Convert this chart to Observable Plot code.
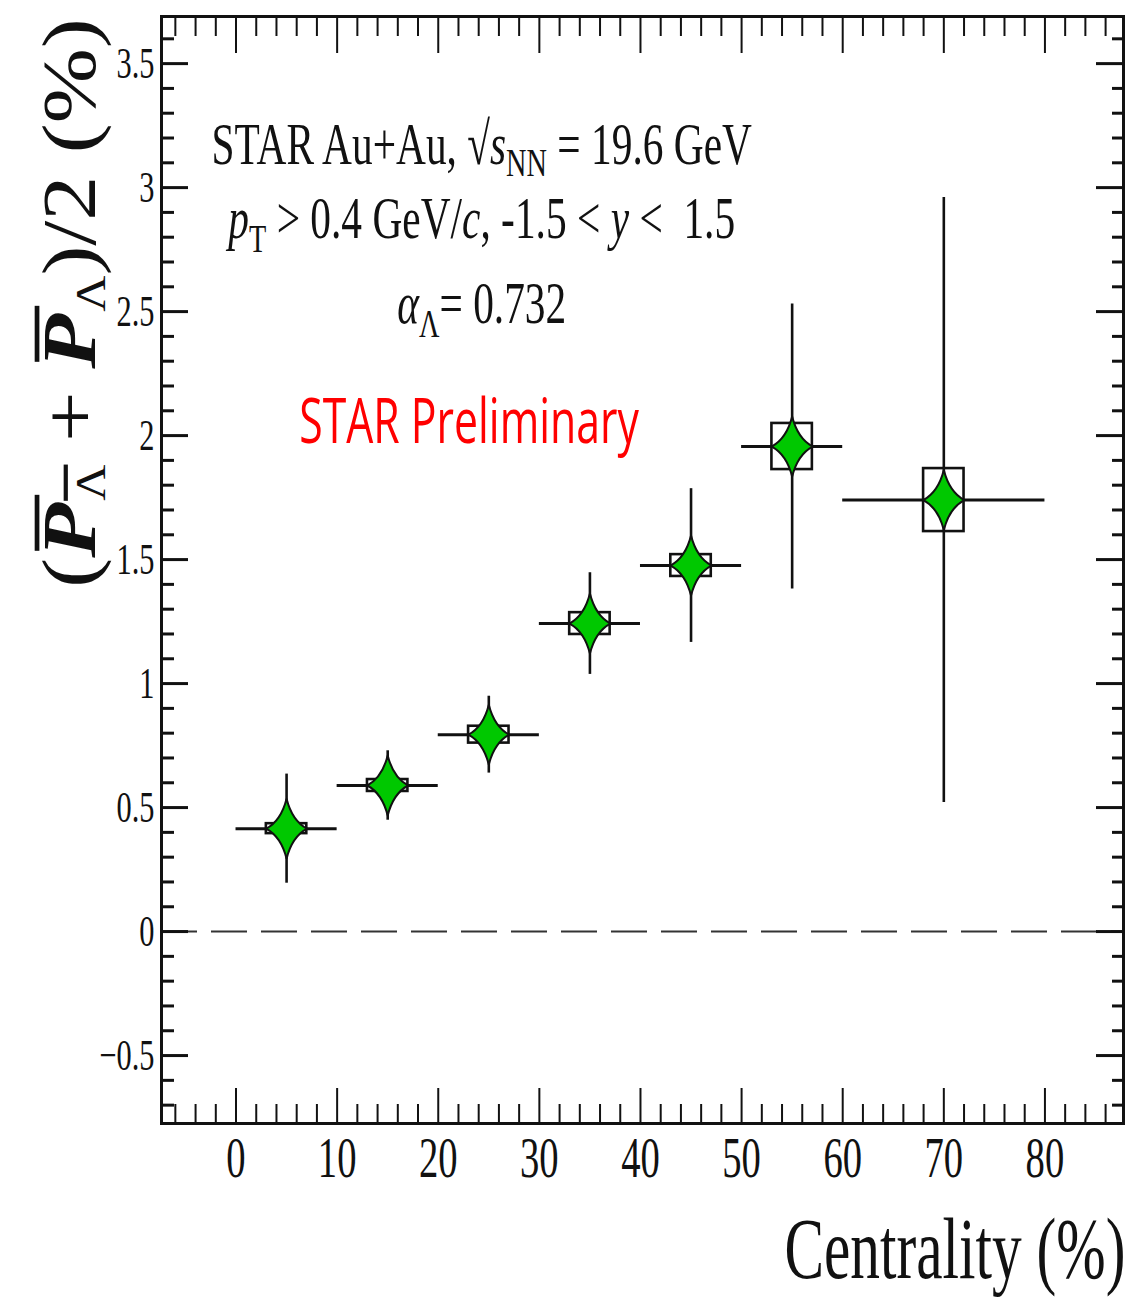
<!DOCTYPE html>
<html>
<head>
<meta charset="utf-8">
<script src="https://cdn.jsdelivr.net/npm/d3@7"></script>
<script src="https://cdn.jsdelivr.net/npm/@observablehq/plot@0.6"></script>
<style>
  html, body { margin: 0; padding: 0; background: #fff; overflow: hidden; }
  #chart { width: 1128px; height: 1297px; overflow: hidden; }
</style>
</head>
<body>
<div id="chart"></div>
<script>
// ---------------- data ----------------
const centrality   = [5, 15, 25, 35, 45, 55, 70];
const binLow       = [0, 10, 20, 30, 40, 50, 60];
const binHigh      = [10, 20, 30, 40, 50, 60, 80];
const polarization = [0.415, 0.589, 0.794, 1.242, 1.476, 1.956, 1.740];
const statErr      = [0.22, 0.14, 0.155, 0.205, 0.31, 0.575, 1.22];
const sysErr       = [0.020, 0.024, 0.034, 0.044, 0.044, 0.093, 0.127];

// tick values / labels
const xMajorTicks = [0, 10, 20, 30, 40, 50, 60, 70, 80];
const yMajorTicks = [-0.5, 0, 0.5, 1, 1.5, 2, 2.5, 3, 3.5];
const xMinorTicks = d3.range(-6, 88, 2).filter(v => v % 10 !== 0);
const yMinorTicks = d3.range(-7, 37).filter(v => v % 5 !== 0).map(v => v / 10);

// texts
const annotLine1 = "STAR Au+Au, √sNN = 19.6 GeV";
const annotLine2 = "pT > 0.4 GeV/c, -1.5 < y < 1.5";
const annotLine3 = "αΛ= 0.732";
const prelimText = "STAR Preliminary";
const xLabelText = "Centrality (%)";
const yLabelText = "(PΛ + PΛ)/2 (%)";

// ---------------- styling constants ----------------
const K = 0.69;          // horizontal condensing of the glyphs, as in the reference
const KY = 0.84;         // condensing of the rotated y title across its lines
const boxHalfWidth = 2;  // half width of the systematic-error boxes (x units)

const rows = centrality.map((x, i) => ({
  x, lo: binLow[i], hi: binHigh[i], y: polarization[i], stat: statErr[i], sys: sysErr[i]
}));

// four-pointed star marker (narrower horizontally, as drawn in the reference)
const star4 = {
  draw(ctx, size) {
    const r = Math.sqrt(size / Math.PI);
    const w = r * 0.68;
    const c = 0.27;
    ctx.moveTo(0, -r);
    ctx.quadraticCurveTo(c * w, -c * r, w, 0);
    ctx.quadraticCurveTo(c * w, c * r, 0, r);
    ctx.quadraticCurveTo(-c * w, c * r, -w, 0);
    ctx.quadraticCurveTo(-c * w, -c * r, 0, -r);
    ctx.closePath();
  }
};

const ink = "#111";
const noText = () => "";

const chart = Plot.plot({
  width: 1128,
  height: 1297,
  marginLeft: 161,
  marginRight: 5,
  marginTop: 16,
  marginBottom: 174,
  style: {fontFamily: "'Liberation Serif', 'Times New Roman', serif", background: "white", color: ink, overflow: "visible"},
  x: {domain: [-7.37, 87.77]},
  y: {domain: [-0.774, 3.69]},
  marks: [
    Plot.ruleY([0], {stroke: "#333", strokeWidth: 2, strokeDasharray: "36,14"}),
    Plot.rect(rows, {
      x1: d => d.x - boxHalfWidth, x2: d => d.x + boxHalfWidth,
      y1: d => d.y - d.sys, y2: d => d.y + d.sys,
      fill: "none", stroke: ink, strokeWidth: 2.6
    }),
    Plot.ruleY(rows, {y: "y", x1: "lo", x2: "hi", stroke: ink, strokeWidth: 3}),
    Plot.ruleX(rows, {x: "x", y1: d => d.y - d.stat, y2: d => d.y + d.stat, stroke: ink, strokeWidth: 2.6}),
    Plot.dot(rows, {x: "x", y: "y", symbol: star4, r: 30, fill: "#00c800", stroke: ink, strokeWidth: 2}),

    // ticks (inward, on all four sides)
    Plot.axisY({anchor: "left", ticks: yMajorTicks, tickSize: -27, strokeWidth: 3, tickFormat: noText, label: null}),
    Plot.axisY({anchor: "left", ticks: yMinorTicks, tickSize: -13, strokeWidth: 3, tickFormat: noText, label: null}),
    Plot.axisY({anchor: "right", ticks: yMajorTicks, tickSize: -28, strokeWidth: 3, tickFormat: noText, label: null}),
    Plot.axisY({anchor: "right", ticks: yMinorTicks, tickSize: -12, strokeWidth: 3, tickFormat: noText, label: null}),
    Plot.axisX({anchor: "bottom", ticks: xMajorTicks, tickSize: -35, strokeWidth: 2, tickFormat: noText, label: null}),
    Plot.axisX({anchor: "bottom", ticks: xMinorTicks, tickSize: -19, strokeWidth: 2, tickFormat: noText, label: null}),
    Plot.axisX({anchor: "top", ticks: xMajorTicks, tickSize: -36, strokeWidth: 2, tickFormat: noText, label: null}),
    Plot.axisX({anchor: "top", ticks: xMinorTicks, tickSize: -19, strokeWidth: 2, tickFormat: noText, label: null}),

    // tick labels
    Plot.axisY({anchor: "left", ticks: yMajorTicks, tickSize: 0, tickPadding: 7, tickFormat: d3.format(""), fontSize: 44, label: null}),
    Plot.axisX({anchor: "bottom", ticks: xMajorTicks, tickSize: 0, tickPadding: 14, tickFormat: d3.format(""), fontSize: 56, label: null}),

    Plot.frame({stroke: ink, strokeWidth: 3}),

    // annotations
    Plot.text([annotLine1], {x: 24.3, y: 3.097, text: d => d, textAnchor: "middle", lineAnchor: "bottom", fontSize: 60, fill: ink}),
    Plot.text([annotLine2], {x: 24.3, y: 2.798, text: d => d, textAnchor: "middle", lineAnchor: "bottom", fontSize: 60, fill: ink}),
    Plot.text([annotLine3], {x: 24.3, y: 2.456, text: d => d, textAnchor: "middle", lineAnchor: "bottom", fontSize: 60, fill: ink}),
    Plot.text([prelimText], {x: 23.05, y: 1.972, text: d => d, textAnchor: "middle", lineAnchor: "bottom", fontSize: 62, fontFamily: "'Open Sans', 'Noto Sans', sans-serif", fill: "#ff0000"}),

    // axis titles
    Plot.text([xLabelText], {frameAnchor: "bottom-right", dx: 2, dy: 154, text: d => d, textAnchor: "end", lineAnchor: "bottom", fontSize: 86, fill: ink}),
    Plot.text([yLabelText], {frameAnchor: "left", dx: -67, dy: -267, rotate: -90, text: d => d, textAnchor: "middle", lineAnchor: "bottom", fontSize: 90, fill: ink})
  ]
});

// ---------------- rich text (subscripts, italics, overbars) ----------------
const SVGNS = "http://www.w3.org/2000/svg";
function rich(el, parts) {
  el.textContent = "";
  for (const p of parts) {
    const ts = document.createElementNS(SVGNS, "tspan");
    ts.textContent = p.t;
    if (p.italic) ts.setAttribute("font-style", "italic");
    if (p.bold) ts.setAttribute("font-weight", "bold");
    if (p.size) ts.setAttribute("font-size", p.size);
    if (p.dx) ts.setAttribute("dx", p.dx);
    if (p.dy) ts.setAttribute("dy", p.dy);
    if (p.over) { ts.style.textDecoration = "overline"; ts.style.textDecorationThickness = (p.thick || 4) + "px"; }
    el.appendChild(ts);
  }
}
const NB = "\u00A0\u00A0\u00A0\u00A0";
const richMap = new Map([
  [annotLine1, [{t: "STAR Au+Au, √"}, {t: "s", italic: true}, {t: "NN", size: 41, dy: 12}, {t: " = 19.6 GeV", dy: -12}]],
  [annotLine2, [{t: "p", italic: true}, {t: "T", size: 41, dy: 14}, {t: " > 0.4 GeV/", dy: -14}, {t: "c", italic: true}, {t: ", -1.5 < "}, {t: "y", italic: true}, {t: " <\u00A0 1.5"}]],
  [annotLine3, [{t: "α", italic: true}, {t: "Λ", size: 41, dy: 14}, {t: "= 0.732", dy: -14}]],
  [yLabelText, [
    {t: "("},
    {t: "P", bold: true, italic: true},
    {t: NB, size: 56, dx: -48, dy: -16, over: true, thick: 5},
    {t: "Λ", size: 50, dx: -6, dy: 28, over: true, thick: 3},
    {t: " + ", dy: -12},
    {t: "P", bold: true, italic: true},
    {t: NB, size: 56, dx: -48, dy: -16, over: true, thick: 5},
    {t: "Λ", size: 50, dx: -6, dy: 28},
    {t: ")/2 (%)", dy: -12}
  ]]
]);
chart.querySelectorAll("text").forEach(t => {
  const parts = richMap.get(t.textContent);
  if (parts) rich(t, parts);
});

// condense glyphs horizontally on screen
chart.querySelectorAll("text").forEach(t => {
  const tr = t.getAttribute("transform") || "";
  if (tr.includes("rotate")) {
    t.setAttribute("transform", tr.replace(/\s*rotate/, ` scale(${KY},1) rotate`));
    return;
  }
  const x0 = parseFloat(t.getAttribute("x")) || 0;
  t.setAttribute("transform", `${tr} translate(${x0},0) scale(${K},1) translate(${-x0},0)`.trim());
});

document.getElementById("chart").appendChild(chart);
</script>
</body>
</html>
